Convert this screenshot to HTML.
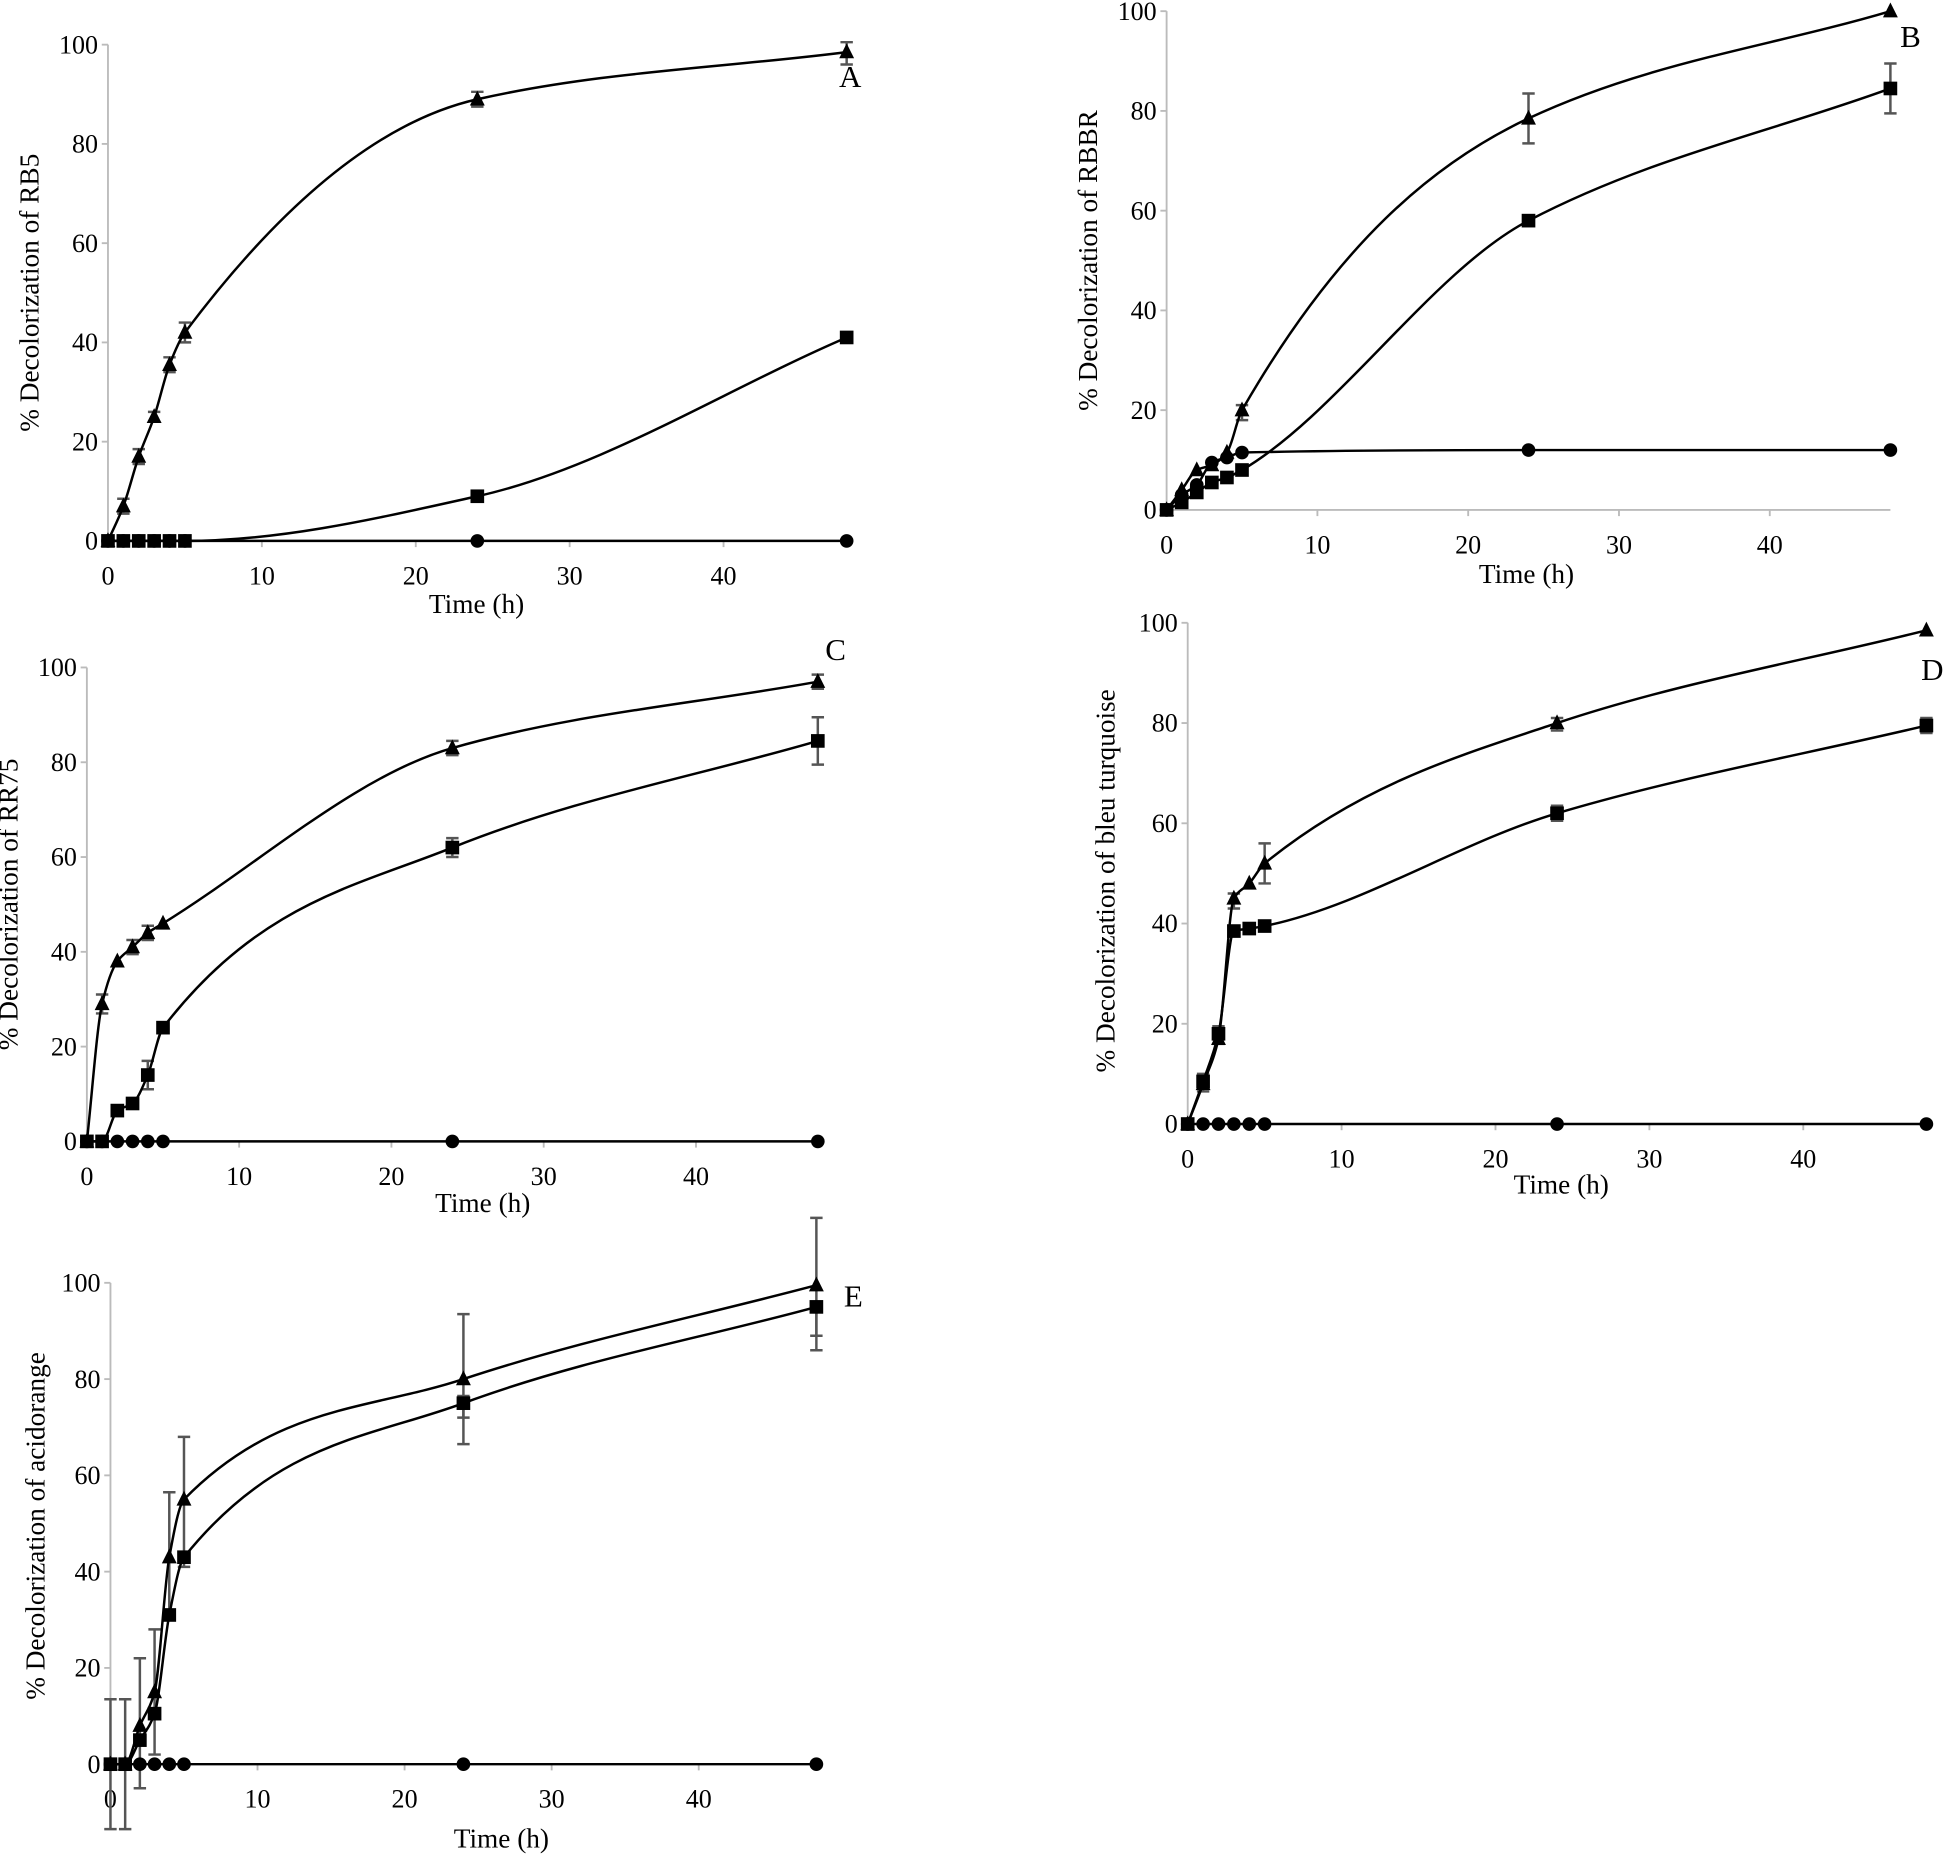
<!DOCTYPE html>
<html><head><meta charset="utf-8"><style>
html,body{margin:0;padding:0;background:#fff}
svg{display:block}
text{font-family:"Liberation Serif",serif;fill:#000}
</style></head><body>
<svg id="s" width="1946" height="1856" viewBox="0 0 1568 1496" preserveAspectRatio="none" xmlns="http://www.w3.org/2000/svg"></svg>
<script>
const S=document.getElementById('s');let h='';
const T=[0,1,2,3,4,5,24,48];
function mono(xs,ys){const n=xs.length,d=[],m=[];
 for(let i=0;i<n-1;i++)d.push((ys[i+1]-ys[i])/(xs[i+1]-xs[i]));
 m[0]=d[0];m[n-1]=d[n-2];
 for(let i=1;i<n-1;i++){if(d[i-1]*d[i]<=0)m[i]=0;else{const w1=2*(xs[i+1]-xs[i])+(xs[i]-xs[i-1]),w2=(xs[i+1]-xs[i])+2*(xs[i]-xs[i-1]);m[i]=(w1+w2)/(w1/d[i-1]+w2/d[i]);}}
 return m;}
function panel(p){
 const X=t=>p.x0+t*p.xs, Y=v=>p.y0-v*p.ys;
 h+=`<line x1="${p.x0}" y1="${Y(100)}" x2="${p.x0}" y2="${p.y0}" stroke="#bbb" stroke-width="1.5"/>`;
 h+=`<line x1="${p.x0}" y1="${p.y0}" x2="${X(48)}" y2="${p.y0}" stroke="#bbb" stroke-width="1.5"/>`;
 for(let v=0;v<=100;v+=20){h+=`<line x1="${p.x0-5}" y1="${Y(v)}" x2="${p.x0}" y2="${Y(v)}" stroke="#bbb" stroke-width="1.5"/>`;
  h+=`<text x="${p.x0-8}" y="${Y(v)+7}" font-size="21" text-anchor="end">${v}</text>`;}
 for(let t=0;t<=40;t+=10){h+=`<line x1="${X(t)}" y1="${p.y0}" x2="${X(t)}" y2="${p.y0+5}" stroke="#bbb" stroke-width="1.5"/>`;
  h+=`<text x="${X(t)}" y="${p.y0+35}" font-size="21" text-anchor="middle">${t}</text>`;}
 h+=`<text x="${p.xl[0]}" y="${p.xl[1]}" font-size="22" text-anchor="middle">Time (h)</text>`;
 h+=`<text transform="translate(${p.yl[0]},${p.yl[1]}) rotate(-90)" font-size="22" text-anchor="middle">${p.ylab}</text>`;
 h+=`<text x="${p.L[0]}" y="${p.L[1]}" font-size="25">${p.L[2]}</text>`;
 (p.err||[]).forEach(e=>{const x=X(e[0]),a=Y(e[1]),b=Y(e[2]);
  h+=`<path d="M${x},${a}V${b}M${x-5},${a}h10M${x-5},${b}h10" stroke="#555" stroke-width="2" fill="none"/>`;});
 p.series.forEach(s=>{
  const ts=T, vs=s.d, m=mono(ts,vs);
  let d=`M${X(ts[0])},${Y(vs[0])}`;
  for(let i=0;i<ts.length-1;i++){const dt=ts[i+1]-ts[i];
   d+=`C${X(ts[i]+dt/3)},${Y(vs[i]+m[i]*dt/3)} ${X(ts[i+1]-dt/3)},${Y(vs[i+1]-m[i+1]*dt/3)} ${X(ts[i+1])},${Y(vs[i+1])}`;}
  h+=`<path d="${d}" stroke="#000" stroke-width="2" fill="none"/>`;
  ts.forEach((t,i)=>{const x=X(t),y=Y(vs[i]);
   if(s.m=='t')h+=`<polygon points="${x},${y-7} ${x-6},${y+5} ${x+6},${y+5}" fill="#000"/>`;
   else if(s.m=='s')h+=`<rect x="${x-5.5}" y="${y-5.5}" width="11" height="11" fill="#000"/>`;
   else h+=`<circle cx="${x}" cy="${y}" r="5.5" fill="#000"/>`;});
 });
}
panel({x0:87,y0:436,xs:12.4,ys:4,xl:[384,494],yl:[31,236],ylab:"% Decolorization of RB5",L:[676,70,"A"],
 err:[[1,5.5,8.5],[2,15.5,18.5],[3,24,26],[4,34,37],[5,40,44],[24,87.5,90.5],[48,96,100.5],[48,40,42]],
 series:[{m:'c',d:[0,0,0,0,0,0,0,0]},{m:'s',d:[0,0,0,0,0,0,9,41]},{m:'t',d:[0,7,17,25,35.5,42,89,98.5]}]});
panel({x0:940,y0:411,xs:12.15,ys:4.02,xl:[1230,470],yl:[884,210],ylab:"% Decolorization of  RBBR",L:[1531,38,"B"],
 err:[[24,73.5,83.5],[48,79.5,89.5],[5,18,21]],
 series:[{m:'c',d:[0,3,5,9.5,10.5,11.5,12,12]},{m:'s',d:[0,1.5,3.5,5.5,6.5,8,58,84.5]},{m:'t',d:[0,4,8,9,11.5,20,78.5,100]}]});
panel({x0:70,y0:920,xs:12.27,ys:3.82,xl:[389,977],yl:[14,729],ylab:"% Decolorization of RR75",L:[665,532,"C"],
 err:[[1,27,31],[3,39.5,42.5],[4,42.5,45.5],[4,11,17],[24,60,64],[48,79.5,89.5],[24,81.5,84.5],[48,95.5,98.5]],
 series:[{m:'c',d:[0,0,0,0,0,0,0,0]},{m:'s',d:[0,0,6.5,8,14,24,62,84.5]},{m:'t',d:[0,29,38,41,44,46,83,97]}]});
panel({x0:957,y0:906,xs:12.4,ys:4.04,xl:[1258,962],yl:[898,710],ylab:"% Decolorization of  bleu turquoise",L:[1548,548,"D"],
 err:[[1,6.5,10],[2,16,19.5],[3,43,46],[5,48,56],[24,78.5,81],[24,60.5,63.5],[48,78,81]],
 series:[{m:'c',d:[0,0,0,0,0,0,0,0]},{m:'s',d:[0,8.5,18,38.5,39,39.5,62,79.5]},{m:'t',d:[0,8,17,45,48,52,80,98.5]}]});
panel({x0:89,y0:1422,xs:11.85,ys:3.88,xl:[404,1489],yl:[36,1230],ylab:"% Decolorization of acidorange",L:[680,1053,"E"],
 err:[[0,-13.5,13.5],[1,-13.5,13.5],[2,-5,22],[3,2,28],[4,30,56.5],[5,41,68],[24,66.5,93.5],[24,72,76.5],[48,86,95],[48,89,113.5]],
 series:[{m:'c',d:[0,0,0,0,0,0,0,0]},{m:'s',d:[0,0,5,10.5,31,43,75,95]},{m:'t',d:[0,0,8,15,43,55,80,99.5]}]});
S.innerHTML=h;
</script>
</body></html>
